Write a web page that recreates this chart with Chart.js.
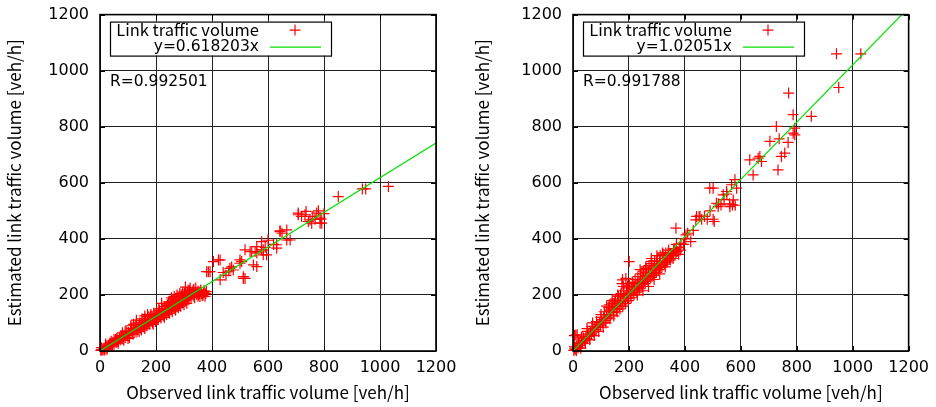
<!DOCTYPE html>
<html><head><meta charset="utf-8">
<script src="https://cdn.jsdelivr.net/npm/chart.js@4"></script>
<style>
html,body{margin:0;padding:0;background:#fff;}
#wrap{position:relative;width:936px;height:407px;overflow:hidden;background:#fff}
.c{position:absolute;top:-6px;height:413px;width:468px}
</style></head><body>
<div id="wrap">
<div class="c" style="left:0"><canvas id="a"></canvas></div>
<div class="c" style="left:468px"><canvas id="b"></canvas></div>
</div>
<script>
// ---- data ----
const tickValues = [0, 200, 400, 600, 800, 1000, 1200];
const xTitle = 'Observed link traffic volume [veh/h]';
const yTitle = 'Estimated link traffic volume [veh/h]';
const seriesLabel = 'Link traffic volume';

// [observed, estimated]
const leftPoints = [
[3,2],[6,5],[10,4],[14,10],[18,7],[22,15],[26,12],[30,20],[34,16],[38,25],[42,22],[46,30],[50,24],[54,36],[58,30],[62,40],[66,35],[70,46],[74,40],[78,50],[82,44],[86,56],[90,48],[94,60],[98,55],[102,66],[106,58],[110,72],[115,64],[120,78],[125,70],[130,84],[135,76],[140,90],[145,82],[150,96],[155,88],[160,104],[165,94],[170,110],[175,100],[180,112],[185,106],[190,120],[195,112],[200,128],[205,118],[210,134],[215,124],[220,140],[225,130],[230,146],[235,136],[240,150],[245,142],[250,158],[255,148],[260,164],[265,154],[270,172],[275,160],[280,176],[285,168],[290,182],[295,172],[300,190],[305,180],[310,196],[315,186],[320,200],[325,192],[330,206],[335,196],[340,210],[345,202],[350,214],[355,205],[360,218],[365,198],[370,208],[375,195],[380,212],
[120,95],[160,80],[200,110],[230,120],[250,175],[270,145],[300,165],[320,215],[140,70],[180,125],[210,150],[260,185],[280,155],[90,70],[60,45],[40,35],[100,45],[130,100],[190,95],[240,165],[290,200],[310,170],[335,220],[350,195],[220,170],[315,218],[357,194],
[5,12],[15,3],[20,18],[25,5],[35,28],[45,18],[55,42],[65,28],[75,55],[85,38],[95,68],[105,48],[112,80],[118,60],[128,92],[132,68],[142,100],[148,75],[152,108],[158,85],[162,115],[168,90],[172,122],[178,95],[182,130],[188,100],[192,135],[198,105],[202,140],[208,112],[212,145],[218,118],[222,152],[228,125],[232,158],[238,130],[242,162],[248,135],[252,168],[258,140],[262,176],[268,150],[272,182],[278,165],[282,190],[288,160],[292,195],[298,178],[302,205],[308,185],[312,210],[318,190],[322,225],[328,200],[332,215],[338,190],[342,225],[348,208],[352,200],[358,212],[362,205],[368,200],[372,215],[378,205],[255,190],[275,200],[295,210],[305,228],[265,195],[245,175],[285,205],[160,125],[170,130],[150,115],[130,110],[110,90],[80,65],[50,40],[20,25],
[381,283],[393,283],[405,319],[423,325],[429,325],[429,254],[387,283],[440,280],[450,270],[460,285],[464,295],[470,300],[476,289],[500,313],[500,325],[506,319],[512,259],[512,265],[518,259],[518,361],[536,355],[542,354],[548,307],[554,355],[560,301],[560,350],[560,372],[577,390],[577,361],[583,343],[583,361],[590,370],[595,343],[600,395],[620,380],[631,367],[631,379],[643,426],[643,429],[650,420],[667,432],[667,396],[679,396],[708,486],[708,492],[720,480],[732,486],[736,498],[744,462],[750,468],[756,456],[760,480],[768,470],[774,492],[780,500],[786,456],[786,474],[790,470],[792,456],[800,490],[851,551],[937,578],[949,578],[1030,587]
];
const rightPoints = [
[3,2],[6,8],[10,5],[14,16],[18,12],[22,26],[26,20],[30,36],[34,28],[38,44],[42,36],[46,52],[50,44],[54,60],[58,52],[62,70],[66,60],[70,78],[74,68],[78,86],[82,76],[86,94],[90,84],[94,102],[98,92],[102,112],[106,100],[110,120],[115,108],[120,130],[125,118],[130,140],[135,128],[140,150],[145,138],[150,160],[155,148],[160,170],[165,158],[170,180],[175,168],[180,190],[185,178],[190,200],[195,188],[200,210],[205,198],[210,220],[215,206],[220,230],[225,218],[230,240],[235,228],[240,250],[245,238],[250,260],[255,248],[260,270],[265,256],[270,280],[275,266],[280,290],[285,276],[290,300],[295,286],[300,310],[305,296],[310,320],[315,306],[320,330],[325,316],[330,340],[335,322],[340,350],
[5,15],[12,2],[20,30],[28,10],[36,50],[44,28],[52,70],[60,40],[68,88],[76,55],[84,105],[92,70],[100,120],[108,85],[112,140],[118,100],[128,155],[132,115],[142,170],[146,125],[152,185],[158,140],[162,195],[168,150],[172,205],[178,160],[182,215],[188,170],[192,225],[198,180],[202,235],[208,190],[212,245],[218,200],[222,255],[228,210],[232,265],[238,222],[242,275],[248,230],[252,285],[258,240],[262,295],[268,250],[272,305],[278,262],[282,312],[288,270],[292,322],[298,280],[302,330],[308,290],[312,340],[318,300],[322,345],[328,310],[332,350],[338,318],[342,360],[348,325],[352,340],[358,330],[362,365],[368,350],[372,355],[378,345],[385,360],[395,380],[240,290],[215,240],[195,230],[170,200],[280,330],[300,320],[310,300],[260,280],[250,245],[230,225],
[10,57],[5,55],[15,58],[30,50],[50,80],[70,100],[100,130],[120,160],[130,146],[130,165],[140,180],[148,170],[150,175],[160,200],[175,240],[177,254],[180,230],[189,259],[201,319],[230,200],[250,215],[270,230],[290,255],[310,275],[330,300],[260,300],[280,320],[300,340],[320,350],[345,330],[350,345],[356,349],[360,340],[360,360],[370,380],[380,370],[386,384],[400,400],[404,414],[410,420],[421,390],[430,430],[368,438],[439,468],[442,480],[451,480],[454,480],[460,470],[470,480],[480,470],[490,500],[501,470],[505,462],[513,527],[519,515],[520,525],[529,521],[537,557],[540,540],[549,569],[550,560],[560,525],[561,515],[570,521],[573,539],[580,520],[489,581],[501,581],[585,581],[567,593],[579,611],[644,628],[632,682],[674,676],[662,688],[668,694],[733,646],[745,694],[757,706],[769,744],[704,748],[737,757],[793,771],[787,777],[793,795],[727,801],[852,837],[787,843],[771,920],[950,940],[942,1060],[1029,1060]
];
// fitted lines: end points
const leftFitX = [0, 1200];
const leftFitY = [0, 741.84];
const rightFitX = [0, 1200];
const rightFitY = [0, 1224.61];
const leftFitLabel = 'y=0.618203x';
const rightFitLabel = 'y=1.02051x';
const leftR = 'R=0.992501';
const rightR = 'R=0.991788';

// ---- drawing ----
const TITLE_FONT = '"Noto Sans CJK JP", "Noto Sans", sans-serif';
const NUM_FONT = '"DejaVu Sans", sans-serif';
const RED = '#ff0000';
const GREEN = '#00e000';

function drawCross(ctx, x, y, r){
  ctx.beginPath();
  ctx.moveTo(x - r, y); ctx.lineTo(x + r, y);
  ctx.moveTo(x, y - r); ctx.lineTo(x, y + r);
  ctx.stroke();
}

const gnuplotDecor = {
  id: 'gnuplotDecor',
  afterDraw(chart, args, opts) {
    const ctx = chart.ctx;
    const a = chart.chartArea;
    const xs = chart.scales.x, ys = chart.scales.y;
    ctx.save();
    // inner ticks
    ctx.strokeStyle = '#000';
    ctx.lineWidth = 1;
    const tl = 5;
    tickValues.forEach(v => {
      const px = Math.round(xs.getPixelForValue(v)) + 0.5;
      const py = Math.round(ys.getPixelForValue(v)) + 0.5;
      ctx.beginPath();
      ctx.moveTo(px, a.bottom); ctx.lineTo(px, a.bottom - tl);
      ctx.moveTo(px, a.top); ctx.lineTo(px, a.top + tl);
      ctx.moveTo(a.left, py); ctx.lineTo(a.left + tl, py);
      ctx.moveTo(a.right, py); ctx.lineTo(a.right - tl, py);
      ctx.stroke();
    });
    // frame
    ctx.lineWidth = 1.6;
    ctx.strokeRect(a.left, a.top, a.right - a.left, a.bottom - a.top);
    // key box
    const bx = a.left + 10, by = a.top + 7, bw = 221, bh = 34;
    ctx.fillStyle = '#fff';
    ctx.fillRect(bx, by, bw, bh);
    ctx.lineWidth = 1.2;
    ctx.strokeStyle = '#000';
    ctx.strokeRect(bx + 0.5, by + 0.5, bw, bh);
    ctx.fillStyle = '#000';
    ctx.textAlign = 'right';
    ctx.textBaseline = 'middle';
    ctx.font = '16.5px ' + TITLE_FONT;
    ctx.fillText(seriesLabel, bx + 149, by + 8);
    ctx.font = '15.5px ' + NUM_FONT;
    ctx.fillText(opts.fitLabel, bx + 149, by + 25);
    ctx.strokeStyle = RED;
    ctx.lineWidth = 1.2;
    drawCross(ctx, bx + 185, by + 8.5, 5.5);
    ctx.strokeStyle = GREEN;
    ctx.lineWidth = 1.2;
    ctx.beginPath();
    ctx.moveTo(bx + 160, by + 25.5); ctx.lineTo(bx + 211, by + 25.5);
    ctx.stroke();
    // R text
    ctx.fillStyle = '#000';
    ctx.textAlign = 'left';
    ctx.font = '15.5px ' + NUM_FONT;
    ctx.fillText(opts.rText, a.left + 10, a.top + 67);
    ctx.restore();
  }
};

function makeChart(id, pts, fitX, fitY, fitLabel, rText, yWidth, padRight) {
  const scatter = pts.map(p => ({x: p[0], y: p[1]}));
  const fit = fitX.map((x, i) => ({x: x, y: fitY[i]}));
  const axisCommon = {
    type: 'linear', min: 0, max: 1200,
    afterBuildTicks: s => { s.ticks = tickValues.map(v => ({value: v})); },
    grid: {
      color: '#222', lineWidth: 1, drawTicks: false,
      borderDash: [1, 3]
    },
    border: { display: false },
    ticks: { color: '#000', font: { family: NUM_FONT, size: 16 }, callback: v => String(v) }
  };
  return new Chart(document.getElementById(id), {
    type: 'scatter',
    data: {
      datasets: [
        { label: fitLabel, type: 'line', data: fit, borderColor: GREEN, borderWidth: 1.2,
          pointRadius: 0, showLine: true, fill: false, order: 0, tension: 0 },
        { label: seriesLabel, data: scatter, pointStyle: 'cross', pointRadius: 5.5,
          pointHoverRadius: 5.5, borderColor: RED, backgroundColor: RED, pointBorderWidth: 1.2,
          borderWidth: 1.2, order: 1, clip: false }
      ]
    },
    options: {
      responsive: true, maintainAspectRatio: false, animation: false, devicePixelRatio: 1,
      layout: { padding: { top: 10, right: padRight, left: 0, bottom: 0 } },
      plugins: {
        legend: { display: false }, tooltip: { enabled: false },
        gnuplotDecor: { fitLabel: fitLabel, rText: rText }
      },
      events: [],
      scales: {
        x: Object.assign({}, axisCommon, {
          position: 'bottom',
          ticks: Object.assign({}, axisCommon.ticks, { padding: 7, maxRotation: 0, autoSkip: false }),
          title: { display: true, text: xTitle, color: '#000', font: { family: TITLE_FONT, size: 17 },
                   padding: { top: 0, bottom: 4 } },
          afterFit: s => { s.height = 56; }
        }),
        y: Object.assign({}, axisCommon, {
          position: 'left',
          ticks: Object.assign({}, axisCommon.ticks, { padding: 11, autoSkip: false }),
          title: { display: true, text: yTitle, color: '#000', font: { family: TITLE_FONT, size: 17 },
                   padding: { top: 4, bottom: 0 } },
          afterFit: s => { s.width = yWidth; }
        })
      }
    },
    plugins: [gnuplotDecor]
  });
}

makeChart('a', leftPoints, leftFitX, leftFitY, leftFitLabel, leftR, 100, 32);
makeChart('b', rightPoints, rightFitX, rightFitY, rightFitLabel, rightR, 105, 27);
</script>
</body></html>
